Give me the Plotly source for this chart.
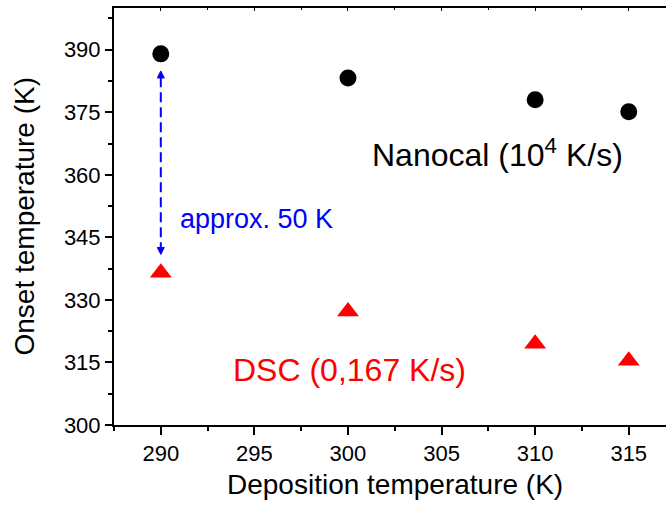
import plotly.graph_objects as go

# Data
dep_temp = [290, 300, 310, 315]
nanocal_onset = [389.0, 383.2, 378.0, 375.1]
dsc_onset = [336.5, 327.2, 319.5, 315.4]

x_ticks = [290, 295, 300, 305, 310, 315]
y_ticks = [300, 315, 330, 345, 360, 375, 390]

x_range = [287.5, 316.99]
y_range = [300, 400]

# double arrow between the two series at 290 K
arrow_x = [290, 290]
arrow_y = [384.9, 340.9]

FONT = "Arial, Liberation Sans, sans-serif"

fig = go.Figure()

# Nanocal points
fig.add_trace(go.Scatter(
    x=dep_temp, y=nanocal_onset, mode="markers",
    marker=dict(symbol="circle", size=17, color="black"),
    showlegend=False, cliponaxis=False,
))
# DSC points
fig.add_trace(go.Scatter(
    x=dep_temp, y=dsc_onset, mode="markers",
    marker=dict(symbol="triangle-up", size=19, color="#ff0000"),
    showlegend=False, cliponaxis=False,
))

# dashed shaft
fig.add_trace(go.Scatter(
    x=arrow_x, y=[arrow_y[0] - 1.5, arrow_y[1] + 1.5], mode="lines",
    line=dict(color="#0000ff", width=2, dash="10px,5px"),
    showlegend=False, hoverinfo="skip",
))
# arrow heads (tip sits on the data point)
fig.add_trace(go.Scatter(
    x=[arrow_x[0]], y=[arrow_y[0]], mode="markers",
    marker=dict(symbol="arrow-up", size=7, color="#0000ff",
                line=dict(width=1, color="#0000ff")),
    showlegend=False, hoverinfo="skip",
))
fig.add_trace(go.Scatter(
    x=[arrow_x[1]], y=[arrow_y[1]], mode="markers",
    marker=dict(symbol="arrow-down", size=7, color="#0000ff",
                line=dict(width=1, color="#0000ff")),
    showlegend=False, hoverinfo="skip",
))

annotations = [
    dict(x=290.92, y=349.4, xref="x", yref="y", text="approx. 50 K",
         showarrow=False, xanchor="left", yanchor="middle",
         font=dict(family=FONT, size=27, color="#0000ff")),
    dict(x=301.2, y=365.3, xref="x", yref="y",
         text="Nanocal (10<sup>4</sup> K/s)",
         showarrow=False, xanchor="left", yanchor="middle",
         font=dict(family=FONT, size=32, color="black")),
    dict(x=293.75, y=313.1, xref="x", yref="y", text="DSC (0,167 K/s)",
         showarrow=False, xanchor="left", yanchor="middle",
         font=dict(family=FONT, size=32, color="#ff0000")),
    # axis titles
    dict(x=(395 - 114) / (666 - 114), y=-0.142, xref="paper", yref="paper",
         text="Deposition temperature (K)", showarrow=False,
         xanchor="center", yanchor="middle",
         font=dict(family=FONT, size=28, color="black")),
    dict(x=-0.163, y=0.5, xref="paper", yref="paper",
         text="Onset temperature (K)", showarrow=False, textangle=-90,
         xanchor="center", yanchor="middle",
         font=dict(family=FONT, size=28, color="black")),
]

fig.update_layout(
    width=666, height=509,
    margin=dict(l=114, r=0, t=8, b=84),
    paper_bgcolor="white", plot_bgcolor="white",
    font=dict(family=FONT, color="black"),
    annotations=annotations,
    xaxis=dict(
        range=x_range, tickmode="array", tickvals=x_ticks,
        ticktext=[str(v) for v in x_ticks],
        showgrid=False, zeroline=False, showline=True, linecolor="black",
        linewidth=2, ticks="outside", ticklen=8, tickwidth=2,
        tickcolor="black", tickfont=dict(size=22, family=FONT),
        minor=dict(dtick=2.5, tick0=290, ticks="outside", ticklen=4,
                   tickwidth=2, tickcolor="black", showgrid=False),
    ),
    xaxis2=dict(
        matches="x", overlaying="x", side="top", anchor="y",
        range=x_range, tickmode="array", tickvals=x_ticks,
        showticklabels=False, showgrid=False, zeroline=False,
        showline=True, linecolor="black", linewidth=2,
        ticks="inside", ticklen=3, tickwidth=1, tickcolor="black",
        minor=dict(dtick=2.5, tick0=290, ticks="inside", ticklen=2,
                   tickwidth=1, tickcolor="black", showgrid=False),
    ),
    yaxis=dict(
        range=y_range, tickmode="array", tickvals=y_ticks,
        ticktext=[str(v) for v in y_ticks],
        showgrid=False, zeroline=False, showline=True, linecolor="black",
        linewidth=2, ticks="outside", ticklen=7, tickwidth=2,
        tickcolor="black", tickfont=dict(size=22, family=FONT),
        minor=dict(dtick=7.5, tick0=300, ticks="outside", ticklen=4,
                   tickwidth=2, tickcolor="black", showgrid=False),
    ),
)

# dummy trace to activate top axis
fig.add_trace(go.Scatter(x=[None], y=[None], xaxis="x2", showlegend=False))

fig.write_html("out.html")
